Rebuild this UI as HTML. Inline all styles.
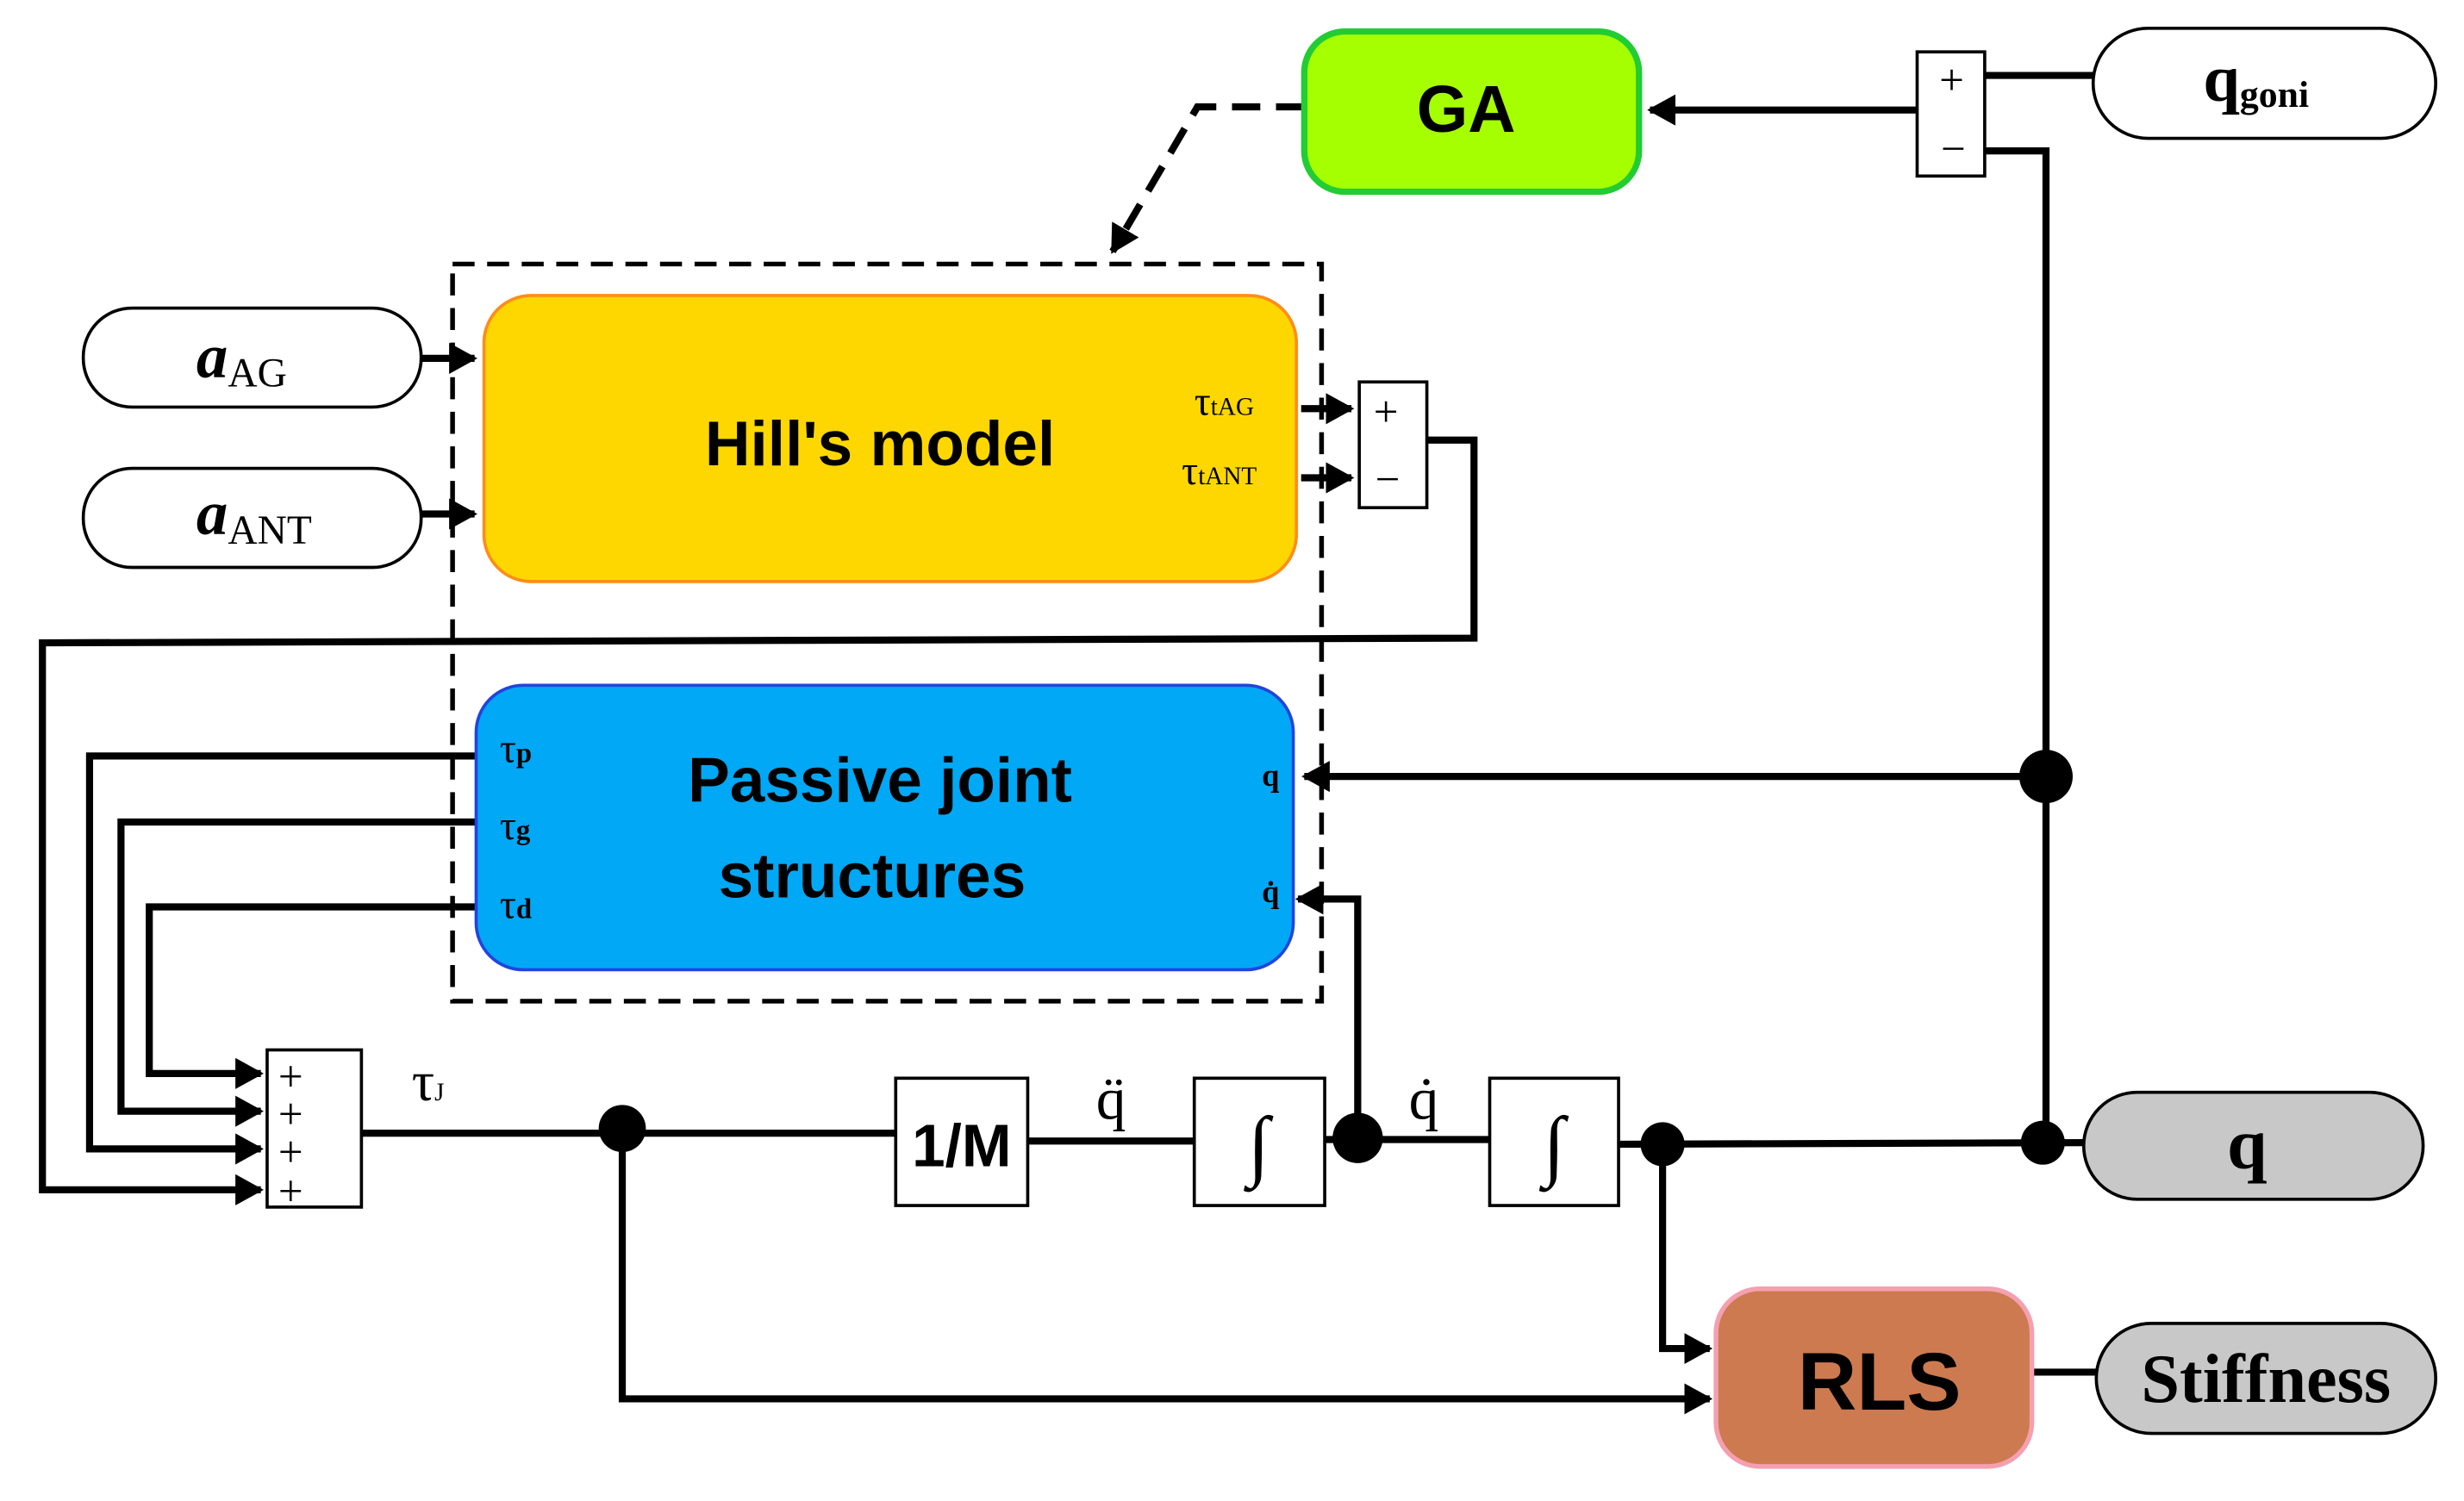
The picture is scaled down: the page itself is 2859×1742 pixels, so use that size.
<!DOCTYPE html>
<html><head><meta charset="utf-8"><style>
html,body{margin:0;padding:0;background:#fff;}
svg{display:block;}
.s{font-family:"Liberation Sans",sans-serif;font-weight:bold;}
.r{font-family:"Liberation Serif",serif;}
</style></head><body>
<svg width="2859" height="1742" viewBox="0 0 1568 955" preserveAspectRatio="none" xmlns="http://www.w3.org/2000/svg">
<defs>
<marker id="a" markerWidth="4" markerHeight="4.4" refX="3.6" refY="2.2" orient="auto" markerUnits="strokeWidth"><path d="M0,0 L4,2.2 L0,4.4 Z" fill="#000"/></marker>
</defs>
<g fill="none" stroke="#000" stroke-width="4.5">
<rect x="288" y="168" width="553" height="469" stroke-dasharray="14,8" stroke-width="3"/>
<polyline points="830,68 762,68 708,160" stroke-dasharray="18,10" marker-end="url(#a)"/>
<line x1="1263" y1="48" x2="1332" y2="48"/>
<line x1="1220" y1="70" x2="1050" y2="70" marker-end="url(#a)"/>
<polyline points="1263,96 1302,96 1302,727"/>
<line x1="1302" y1="494" x2="830" y2="494" marker-end="url(#a)"/>
<line x1="268" y1="228" x2="302" y2="228" marker-end="url(#a)"/>
<line x1="268" y1="327" x2="302" y2="327" marker-end="url(#a)"/>
<line x1="828" y1="260" x2="860" y2="260" marker-end="url(#a)"/>
<line x1="828" y1="304" x2="860" y2="304" marker-end="url(#a)"/>
<polyline points="908,280 938,280 938,406 27,409 27,757 166,757" marker-end="url(#a)"/>
<polyline points="303,481 57,481 57,731 166,731" marker-end="url(#a)"/>
<polyline points="303,523 77,523 77,707 166,707" marker-end="url(#a)"/>
<polyline points="303,577 95,577 95,683 166,683" marker-end="url(#a)"/>
<line x1="230" y1="721" x2="570" y2="721"/>
<polyline points="396,718 396,890 1088,890" marker-end="url(#a)"/>
<line x1="654" y1="726" x2="760" y2="726"/>
<line x1="843" y1="725" x2="948" y2="725"/>
<polyline points="864,724 864,572 826,572" marker-end="url(#a)"/>
<line x1="1030" y1="728" x2="1330" y2="727"/>
<polyline points="1058,728 1058,858 1088,858" marker-end="url(#a)"/>
<line x1="1293" y1="873" x2="1334" y2="873"/>
</g>
<rect x="830" y="20" width="213" height="102" rx="26" fill="#a6ff00" stroke="#22cc33" stroke-width="4"/>
<text x="933" y="84" class="s" font-size="42" text-anchor="middle">GA</text>
<rect x="1220" y="33" width="43" height="79" fill="#fff" stroke="#000" stroke-width="2"/>
<text x="1242" y="60" class="r" font-size="28" text-anchor="middle">+</text>
<text x="1243" y="104" class="r" font-size="28" text-anchor="middle">−</text>
<rect x="1332" y="18" width="218" height="70" rx="35" fill="#fff" stroke="#000" stroke-width="2"/>
<text x="1402" y="64" class="r" font-weight="bold" font-size="42">q<tspan font-size="24" dy="4">goni</tspan></text>
<rect x="308" y="188" width="517" height="182" rx="30" fill="#ffd700" stroke="#ff8c1a" stroke-width="2"/>
<text x="560" y="296" class="s" font-size="40" text-anchor="middle">Hill's model</text>
<text x="760" y="264" class="r" font-size="26">τ<tspan font-size="16">tAG</tspan></text>
<text x="752" y="308" class="r" font-size="26">τ<tspan font-size="16">tANT</tspan></text>
<rect x="865" y="243" width="43" height="80" fill="#fff" stroke="#000" stroke-width="2"/>
<text x="882" y="271" class="r" font-size="28" text-anchor="middle">+</text>
<text x="883" y="314" class="r" font-size="28" text-anchor="middle">−</text>
<rect x="53" y="196" width="215" height="63" rx="31" fill="#fff" stroke="#000" stroke-width="2"/>
<text x="125" y="240" class="r" font-style="italic" font-weight="bold" font-size="40">a<tspan font-style="normal" font-weight="normal" font-size="26" dy="6">AG</tspan></text>
<rect x="53" y="298" width="215" height="63" rx="31" fill="#fff" stroke="#000" stroke-width="2"/>
<text x="125" y="340" class="r" font-style="italic" font-weight="bold" font-size="40">a<tspan font-style="normal" font-weight="normal" font-size="26" dy="6">ANT</tspan></text>
<rect x="303" y="436" width="520" height="181" rx="30" fill="#00a8f5" stroke="#2244dd" stroke-width="2"/>
<text x="560" y="510" class="s" font-size="40" text-anchor="middle">Passive joint</text>
<text x="555" y="571" class="s" font-size="40" text-anchor="middle">structures</text>
<text x="318" y="485" class="r" font-size="26">τ<tspan font-size="18" font-weight="bold">p</tspan></text>
<text x="318" y="534" class="r" font-size="26">τ<tspan font-size="18" font-weight="bold">g</tspan></text>
<text x="318" y="584" class="r" font-size="26">τ<tspan font-size="18" font-weight="bold">d</tspan></text>
<text x="803" y="500" class="r" font-weight="bold" font-size="20">q</text>
<text x="803" y="574" class="r" font-weight="bold" font-size="20">q̇</text>
<rect x="170" y="668" width="60" height="100" fill="#fff" stroke="#000" stroke-width="2"/>
<text x="185" y="694" class="r" font-size="28" text-anchor="middle">+</text>
<text x="185" y="718" class="r" font-size="28" text-anchor="middle">+</text>
<text x="185" y="742" class="r" font-size="28" text-anchor="middle">+</text>
<text x="185" y="767" class="r" font-size="28" text-anchor="middle">+</text>
<text x="262" y="700" class="r" font-size="36">τ<tspan font-size="16">J</tspan></text>
<circle cx="396" cy="718" r="15" fill="#000"/>
<rect x="570" y="686" width="84" height="81" fill="#fff" stroke="#000" stroke-width="2"/>
<text x="612" y="742" class="s" font-weight="normal" font-size="38" text-anchor="middle">1/M</text>
<text x="707" y="712" class="r" font-size="38" text-anchor="middle">q̈</text>
<rect x="760" y="686" width="83" height="81" fill="#fff" stroke="#000" stroke-width="2"/>
<text x="801" y="745" class="r" font-size="50" text-anchor="middle">∫</text>
<circle cx="864" cy="724" r="16" fill="#000"/>
<text x="906" y="712" class="r" font-size="38" text-anchor="middle">q̇</text>
<rect x="948" y="686" width="82" height="81" fill="#fff" stroke="#000" stroke-width="2"/>
<text x="989" y="745" class="r" font-size="50" text-anchor="middle">∫</text>
<circle cx="1058" cy="728" r="14" fill="#000"/>
<circle cx="1300" cy="727" r="14" fill="#000"/>
<circle cx="1302" cy="494" r="17" fill="#000"/>
<rect x="1326" y="695" width="216" height="68" rx="34" fill="#c8c8c8" stroke="#000" stroke-width="2"/>
<text x="1430" y="743" class="r" font-weight="bold" font-size="46" text-anchor="middle">q</text>
<rect x="1092" y="820" width="201" height="113" rx="28" fill="#cd7a50" stroke="#f4a0b0" stroke-width="3"/>
<text x="1196" y="897" class="s" font-size="52" text-anchor="middle">RLS</text>
<rect x="1334" y="842" width="216" height="70" rx="35" fill="#c8c8c8" stroke="#000" stroke-width="2"/>
<text x="1442" y="892" class="r" font-weight="bold" font-size="44" text-anchor="middle">Stiffness</text>
</svg>
</body></html>
